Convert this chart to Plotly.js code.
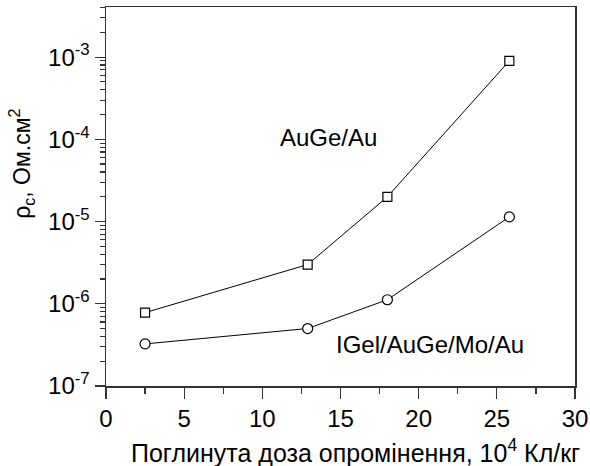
<!DOCTYPE html>
<html>
<head>
<meta charset="utf-8">
<script src="https://cdn.plot.ly/plotly-3.0.1.min.js"></script>
<style>html,body{margin:0;padding:0;background:#fff;}#chart{width:590px;height:466px;}</style>
</head>
<body>
<div id="chart"></div>
<script>
// Data
const dose = [2.5, 12.9, 18.0, 25.8];                 // 10^4 Кл/кг
const rhoAuGeAu = [7.8e-7, 3.0e-6, 2.0e-5, 9.0e-4];   // Ом·см², AuGe/Au
const rhoIGel = [3.25e-7, 5.0e-7, 1.12e-6, 1.14e-5];  // Ом·см², IGel/AuGe/Mo/Au
const seriesNames = ["AuGe/Au", "IGel/AuGe/Mo/Au"];
const yTickVals = [1e-7, 1e-6, 1e-5, 1e-4, 1e-3];
const yTickText = ["10<sup>-7</sup>", "10<sup>-6</sup>", "10<sup>-5</sup>", "10<sup>-4</sup>", "10<sup>-3</sup>"];
const xTickVals = [0, 5, 10, 15, 20, 25, 30];
const xTitle = "Поглинута доза опромінення, 10<sup>4</sup> Кл/кг";
const yTitle = "ρ<sub>c</sub>, Ом.см<sup>2</sup>";

const FONT = "Liberation Sans, Arial, Helvetica, sans-serif";

const traces = [
  {
    x: dose, y: rhoAuGeAu, name: seriesNames[0], type: "scatter", mode: "lines+markers",
    line: {color: "#000", width: 1},
    marker: {symbol: "square", size: 9, color: "#fff", line: {color: "#000", width: 1.2}}
  },
  {
    x: dose, y: rhoIGel, name: seriesNames[1], type: "scatter", mode: "lines+markers",
    line: {color: "#000", width: 1},
    marker: {symbol: "circle", size: 10, color: "#fff", line: {color: "#000", width: 1.2}}
  }
];

const layout = {
  width: 590, height: 466,
  margin: {l: 106, r: 15, t: 7, b: 80},
  paper_bgcolor: "#fff", plot_bgcolor: "#fff",
  showlegend: false,
  font: {family: FONT, size: 24, color: "#000"},
  xaxis: {
    range: [0, 30],
    tickmode: "array", tickvals: xTickVals,
    ticks: "outside", ticklen: 11, tickwidth: 1.2, tickcolor: "#333",
    minor: {ticks: "outside", ticklen: 6, tickwidth: 1.2, tickcolor: "#333", dtick: 2.5, tick0: 0, showgrid: false},
    showline: true, linecolor: "#333", linewidth: 1.5, mirror: true,
    showgrid: false, zeroline: false,
    tickfont: {family: FONT, size: 24}
  },
  yaxis: {
    type: "log",
    range: [-7, Math.log10(4.07e-3)],
    tickmode: "array", tickvals: yTickVals, ticktext: yTickText,
    ticks: "outside", ticklen: 10, tickwidth: 1.2, tickcolor: "#333",
    minor: {ticks: "outside", ticklen: 5, tickwidth: 1.2, tickcolor: "#333", dtick: "D1", showgrid: false},
    showline: true, linecolor: "#333", linewidth: 1.5, mirror: true,
    showgrid: false, zeroline: false,
    tickfont: {family: FONT, size: 24}
  },
  annotations: [
    {xref: "paper", yref: "paper", x: 0.531, y: -0.172, xanchor: "center", yanchor: "middle",
     text: xTitle, showarrow: false, font: {family: FONT, size: 25}},
    {xref: "paper", yref: "paper", x: -0.18, y: 0.585, xanchor: "center", yanchor: "middle",
     text: yTitle, textangle: -90, showarrow: false, font: {family: FONT, size: 23}},
    {xref: "x", yref: "paper", x: 11.0, y: 0.655, xanchor: "left", yanchor: "middle",
     text: seriesNames[0], showarrow: false, font: {family: FONT, size: 24}},
    {xref: "x", yref: "paper", x: 14.6, y: 0.11, xanchor: "left", yanchor: "middle",
     text: seriesNames[1], showarrow: false, font: {family: FONT, size: 24}}
  ]
};

Plotly.newPlot("chart", traces, layout, {displayModeBar: false, staticPlot: true});
</script>
</body>
</html>
